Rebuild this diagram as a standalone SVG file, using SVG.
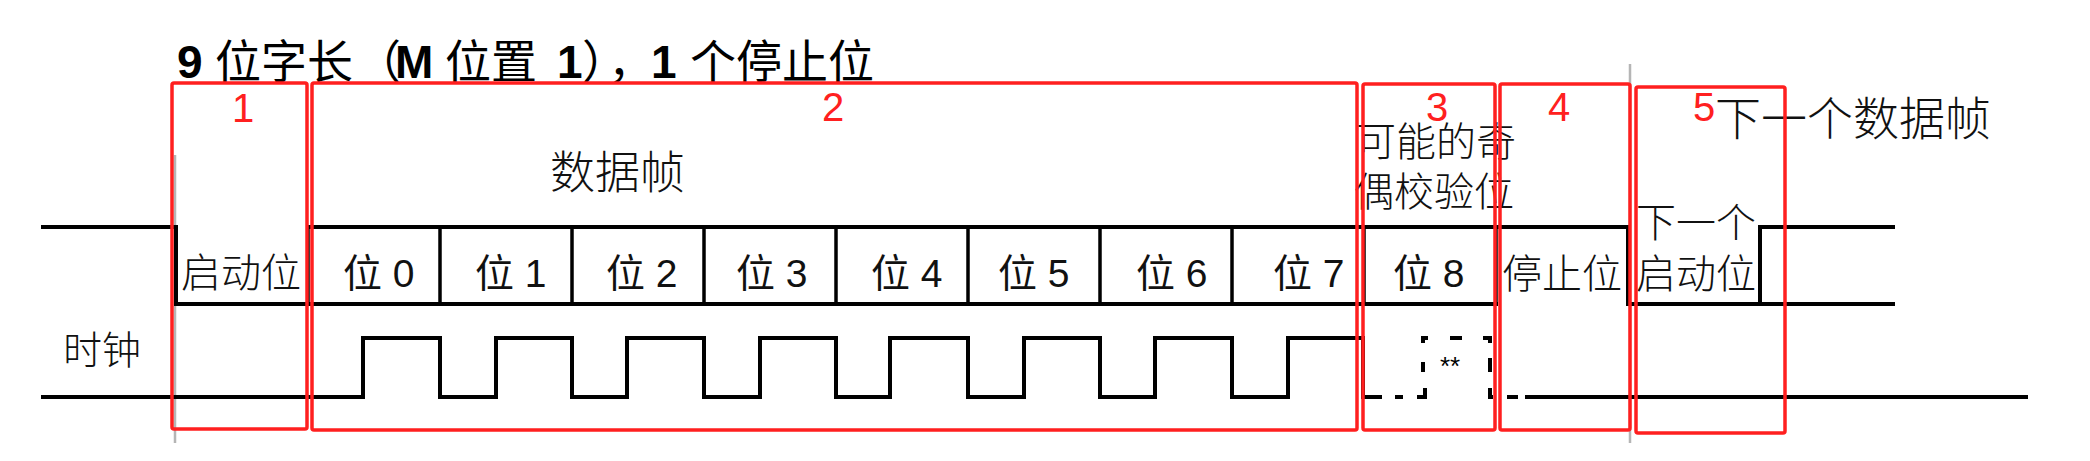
<svg xmlns="http://www.w3.org/2000/svg" width="2090" height="461" viewBox="0 0 2090 461">
<style>
.sig{fill:none;stroke:#000;stroke-width:4;stroke-linejoin:miter;stroke-linecap:square}
.dv{stroke:#000;stroke-width:3.5}
.grey{stroke:#b5b5b5;stroke-width:2.5}
.box{fill:none;stroke:#ff1f1f;stroke-width:3.5}
.num{font-family:"Liberation Sans","Noto Sans CJK SC",sans-serif;font-size:40px;fill:#ff2020;text-anchor:middle}
.lbl{font-family:"Liberation Sans","Noto Sans CJK SC",sans-serif;font-size:39px;fill:#111}
.cjk{font-family:"Noto Sans CJK SC",sans-serif;font-weight:300;fill:#111}
.ttl{font-family:"Liberation Sans","Noto Sans CJK SC",sans-serif;font-size:46px;fill:#000}
.b{font-weight:bold}
.ds{fill:none;stroke:#000;stroke-width:4}
</style>

<g id="title">
<text class="ttl" y="78"><tspan class="b" x="177">9</tspan><tspan x="215">位字长</tspan><tspan x="355">（</tspan><tspan class="b" x="395">M</tspan><tspan x="445">位置</tspan><tspan class="b" x="557">1</tspan><tspan x="582">）</tspan><tspan x="608">，</tspan><tspan class="b" x="651">1</tspan><tspan x="690">个停止位</tspan></text>
</g>

<g id="guides">
<line class="grey" x1="175" y1="155" x2="175" y2="443"/>
<line class="grey" x1="1630" y1="64" x2="1630" y2="443"/>
</g>

<g id="connectors">
<path class="sig" d="M43,227 H176 V304 H1496"/>
<path class="sig" d="M308,227 H1628 V304 H1893"/>
<path class="sig" d="M1760,304 V227 H1893"/>
<line class="dv" x1="308" y1="227" x2="308" y2="304"/>
<line class="dv" x1="440" y1="227" x2="440" y2="304"/>
<line class="dv" x1="572" y1="227" x2="572" y2="304"/>
<line class="dv" x1="704" y1="227" x2="704" y2="304"/>
<line class="dv" x1="836" y1="227" x2="836" y2="304"/>
<line class="dv" x1="968" y1="227" x2="968" y2="304"/>
<line class="dv" x1="1100" y1="227" x2="1100" y2="304"/>
<line class="dv" x1="1232" y1="227" x2="1232" y2="304"/>
<line class="dv" x1="1364" y1="227" x2="1364" y2="304"/>
<line class="dv" x1="1496" y1="227" x2="1496" y2="304"/>
<path class="sig" d="M43,397 H363 V338 H440 V397 H496 V338 H572 V397 H627 V338 H704 V397 H760 V338 H836 V397 H890 V338 H968 V397 H1024 V338 H1100 V397 H1155 V338 H1232 V397 H1288 V338 H1363 V397 H1380"/>
<path class="ds" d="M1395,397 H1403 M1417,397 H1425 V388 M1423,372 V362 M1423,343 V338 H1428 M1450,338 H1462 M1483,338 H1490 V343 M1490,358 V372 M1490,388 V397 H1493 M1507,397 H1518"/>
<path class="sig" d="M1527,397 H2026"/>
</g>

<g id="labels">
<text class="cjk" x="550" y="189" font-size="45">数据帧</text>
<text class="cjk" x="63" y="364" font-size="39">时钟</text>
<text class="cjk" x="181" y="287" font-size="40">启动位</text>
<text class="lbl" x="343" y="287">位 0</text>
<text class="lbl" x="475" y="287">位 1</text>
<text class="lbl" x="606" y="287">位 2</text>
<text class="lbl" x="736" y="287">位 3</text>
<text class="lbl" x="871" y="287">位 4</text>
<text class="lbl" x="998" y="287">位 5</text>
<text class="lbl" x="1136" y="287">位 6</text>
<text class="lbl" x="1273" y="287">位 7</text>
<text class="lbl" x="1393" y="287">位 8</text>
<text class="cjk" x="1356" y="156" font-size="40">可能的奇</text>
<text class="cjk" x="1354" y="206" font-size="40">偶校验位</text>
<text class="cjk" x="1502" y="288" font-size="40">停止位</text>
<text class="cjk" x="1636" y="237" font-size="40">下一个</text>
<text class="cjk" x="1636" y="288" font-size="40">启动位</text>
<text class="cjk" x="1715" y="135" font-size="46">下一个数据帧</text>
<text x="1450" y="375" font-family="Liberation Sans, sans-serif" font-size="26" text-anchor="middle">**</text>
</g>

<g id="box1"><rect class="box" x="172" y="83" width="135" height="346" rx="2"/><text class="num" x="243" y="122">1</text></g>
<g id="box2"><rect class="box" x="312" y="83" width="1045" height="347" rx="2"/><text class="num" x="833" y="121">2</text></g>
<g id="box3"><rect class="box" x="1363" y="84" width="132" height="346" rx="2"/><text class="num" x="1437" y="121">3</text></g>
<g id="box4"><rect class="box" x="1500" y="84" width="130" height="346" rx="2"/><text class="num" x="1559" y="121">4</text></g>
<g id="box5"><rect class="box" x="1636" y="87" width="149" height="346" rx="2"/><text class="num" x="1704" y="121">5</text></g>
</svg>
